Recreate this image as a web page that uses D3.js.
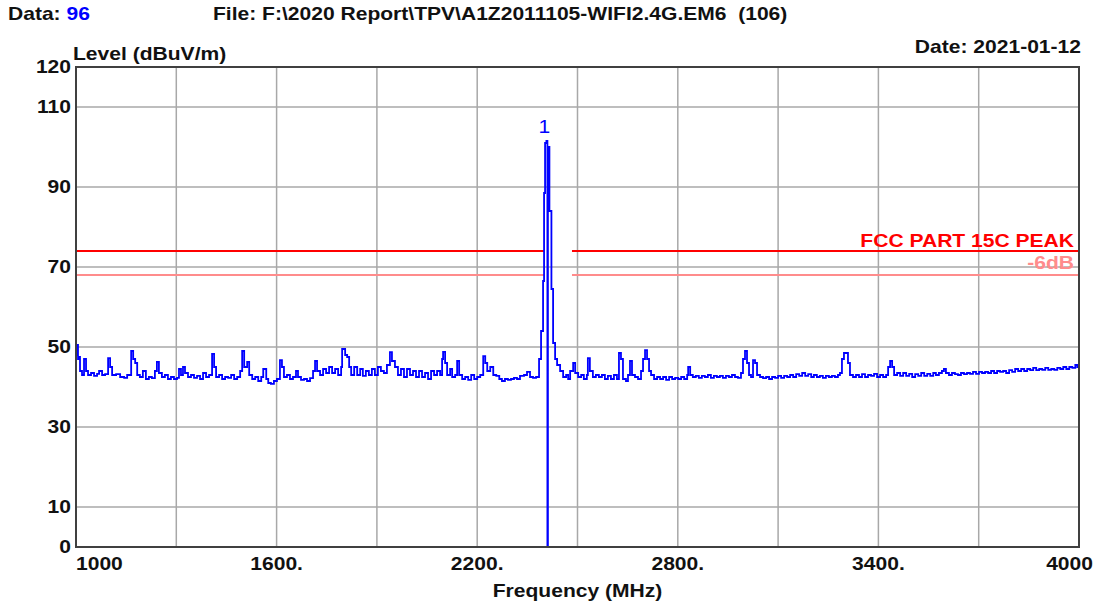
<!DOCTYPE html>
<html>
<head>
<meta charset="utf-8">
<script src="https://cdn.jsdelivr.net/npm/d3@7"></script>
<style>
  body { margin: 0; background: #fff; }
  svg text { font-family: "Liberation Sans", Arial, sans-serif; font-weight: bold; }
</style>
</head>
<body>
<div id="chart"></div>
<script>
// sweep data: frequency (MHz) and level (dBuV/m)
const freqMHz = [
  1000, 1003, 1006, 1009, 1012, 1018, 1024, 1030, 1036, 1045, 1054, 1063, 1069, 1078, 1087, 1096, 1102, 1108, 1120, 1132,
  1144, 1153, 1165, 1171, 1177, 1183, 1191, 1200, 1209, 1218, 1227, 1236, 1242, 1248, 1257, 1266, 1275, 1284, 1293, 1302,
  1308, 1314, 1320, 1326, 1335, 1344, 1353, 1362, 1371, 1380, 1389, 1398, 1407, 1413, 1419, 1428, 1437, 1446, 1455, 1464,
  1473, 1482, 1491, 1497, 1503, 1512, 1518, 1527, 1536, 1545, 1554, 1560, 1569, 1575, 1583, 1592, 1601, 1610, 1616, 1622,
  1631, 1640, 1649, 1658, 1664, 1673, 1682, 1691, 1700, 1709, 1715, 1721, 1730, 1739, 1748, 1757, 1766, 1775, 1784, 1793,
  1796, 1805, 1811, 1817, 1823, 1832, 1841, 1850, 1858, 1867, 1876, 1885, 1894, 1903, 1912, 1921, 1930, 1939, 1945, 1954,
  1963, 1972, 1981, 1990, 1999, 2008, 2017, 2026, 2035, 2044, 2053, 2062, 2071, 2080, 2089, 2095, 2098, 2104, 2110, 2119,
  2125, 2134, 2140, 2146, 2155, 2164, 2173, 2182, 2191, 2200, 2209, 2218, 2224, 2230, 2239, 2248, 2257, 2266, 2274, 2283,
  2292, 2301, 2310, 2319, 2328, 2340, 2349, 2358, 2367, 2376, 2385, 2391, 2397, 2400, 2403, 2407, 2410, 2411.5, 2416, 2422,
  2427, 2433, 2439, 2448, 2457, 2466, 2472, 2478, 2487, 2493, 2502, 2511, 2519, 2528, 2531, 2537, 2546, 2555, 2564, 2573,
  2582, 2591, 2600, 2609, 2618, 2624, 2630, 2636, 2645, 2651, 2657, 2663, 2672, 2681, 2690, 2696, 2702, 2708, 2714, 2720,
  2729, 2738, 2747, 2756, 2765, 2774, 2783, 2792, 2801, 2810, 2819, 2828, 2831, 2837, 2845, 2854, 2863, 2872, 2881, 2890,
  2899, 2908, 2917, 2926, 2935, 2944, 2953, 2962, 2971, 2980, 2989, 2995, 3001, 3007, 3013, 3019, 3025, 3031, 3037, 3046,
  3055, 3064, 3073, 3082, 3091, 3100, 3109, 3118, 3127, 3136, 3145, 3154, 3163, 3172, 3181, 3190, 3199, 3207, 3216, 3225,
  3234, 3243, 3252, 3261, 3270, 3279, 3285, 3291, 3297, 3303, 3309, 3315, 3324, 3333, 3342, 3351, 3360, 3369, 3378, 3387,
  3396, 3405, 3414, 3423, 3429, 3435, 3441, 3447, 3456, 3465, 3474, 3483, 3492, 3501, 3510, 3519, 3528, 3537, 3546, 3555,
  3564, 3572, 3581, 3590, 3596, 3602, 3611, 3620, 3629, 3638, 3647, 3656, 3665, 3674, 3683, 3692, 3701, 3710, 3719, 3728,
  3737, 3746, 3755, 3764, 3773, 3782, 3791, 3800, 3809, 3818, 3827, 3836, 3845, 3854, 3863, 3872, 3881, 3890, 3899, 3908,
  3917, 3926, 3935, 3944, 3953, 3962, 3971, 3980, 3989, 3995, 4000
];
const levelDb = [
  48, 50.5, 47, 47.5, 44, 43, 47, 44, 43, 43.5, 42.8, 43.3, 44, 43, 43.2, 47.2, 45, 43, 43.2, 42.5,
  42.3, 43, 49, 47, 46, 43, 42.5, 44, 42, 42.5, 42.2, 44, 46.3, 43.5, 42.5, 43, 42, 42.5, 42, 42.3,
  44.5, 43, 45, 43.5, 42.5, 43, 42.3, 42.8, 42, 43.5, 42.5, 43, 48.3, 45, 42.5, 43, 42, 42.5, 42.3, 43,
  42, 42.5, 44, 49, 45, 46.3, 43, 42, 42.5, 41.5, 42.5, 44.5, 42, 41, 40.8, 41.5, 42, 46.7, 45, 42.5,
  43, 42, 42.5, 44, 42.5, 41.8, 42, 41.5, 42.2, 44, 46.5, 44, 43, 44.5, 43.5, 45, 43.5, 44.5, 43, 45,
  49.5, 48, 47.5, 45, 43, 45, 43, 44.5, 42.8, 44, 43, 44.5, 43, 45, 44, 43.5, 45.5, 48.7, 46.5, 45,
  43, 44.5, 42.5, 44.5, 43, 44, 42.5, 44, 42.5, 43.5, 42, 44, 43, 44, 43, 47, 48.8, 46, 43, 44.5,
  42.5, 43, 46.5, 43, 42, 42.5, 41.8, 43, 42, 42.5, 43, 47.7, 46, 44, 45, 43, 42.8, 42, 41.5, 42,
  41.8, 42, 42.3, 42, 42.8, 43, 43.8, 42.5, 42.3, 42.5, 47, 54, 66.5, 88.5, 101, 101.5, 0, 100, 84, 64.5,
  51, 47, 45.5, 44, 42.5, 43, 42, 44, 46, 43.5, 42.5, 43, 42, 43, 47.2, 44, 42.5, 43, 42.5, 43,
  42, 42.8, 42, 43, 42, 48.5, 47, 42, 41.5, 43, 46.5, 43, 42.5, 42, 44, 47, 49.2, 47, 44, 43,
  42, 42.5, 42, 42.5, 41.8, 42.5, 42, 42.3, 42, 42.5, 42, 43, 45, 43, 42.5, 42.8, 42.3, 42.8, 42.5, 43,
  42.3, 42.8, 42.5, 42.8, 42.3, 42.8, 42.5, 43, 42.5, 42.3, 43.5, 47, 49, 46, 43, 42.5, 46.7, 46, 43, 42.5,
  42.2, 42.5, 42, 42.5, 42.3, 42.8, 42.3, 42.8, 42.5, 43, 42.5, 43.2, 42.8, 43.5, 42.8, 43.2, 42.5, 43, 42.5, 42.8,
  42.3, 42.8, 42.5, 42.8, 42.5, 43, 43.5, 47, 48.5, 48.5, 46, 43, 42.5, 43, 42.5, 43.2, 42.5, 43, 42.8, 43.3,
  42.5, 43, 42.5, 43, 45, 46.5, 45, 43, 43.5, 42.8, 43.5, 42.8, 43.3, 42.5, 43.2, 42.8, 43.5, 42.8, 43.3, 42.8,
  43.5, 43, 43.5, 44, 44.5, 43.5, 43, 43.5, 43.2, 43, 43.5, 43.2, 43.5, 43.3, 43.8, 43.3, 43.8, 43.5, 43.8, 43.5,
  44, 43.5, 44, 43.8, 44, 43.5, 44.2, 43.8, 44.5, 44, 44.5, 44, 44.5, 44.2, 44.8, 44.2, 44.5, 44.3, 44.8, 44.3,
  44.5, 44.3, 44.8, 44.5, 45, 44.5, 45, 44.8, 45.5, 45, 45.3
];

const xTicks = [1000, 1600, 2200, 2800, 3400, 4000];
const xTickLabels = ["1000", "1600.", "2200.", "2800.", "3400.", "4000"];
const xGrid = [1300, 1600, 1900, 2200, 2500, 2800, 3100, 3400, 3700];
const yTicks = [0, 10, 30, 50, 70, 90, 110, 120];
const yGrid = [10, 30, 50, 70, 90, 110];

const limitLevels = [74, 68];
const limitNames = ["FCC PART 15C PEAK", "-6dB"];
const limitColors = ["#ff0000", "#ff8c8c"];
const limitGap = [2400, 2483.5];

const markerFreq = 2407;
const markerLevel = 101.5;

const W = 1099, H = 606;
const plot = { left: 76, right: 1079, top: 67, bottom: 547 };
const FS = 18, SX = 1.17;   // text is drawn a bit wide, like the original plot

const svg = d3.select("#chart").append("svg")
    .attr("width", W)
    .attr("height", H);

const x = d3.scaleLinear().domain([1000, 4000]).range([plot.left, plot.right]);
const y = d3.scaleLinear().domain([0, 120]).range([plot.bottom, plot.top]);

function label(px, py, str, anchor, color, size) {
    return svg.append("text")
        .attr("transform", `translate(${px},${py}) scale(${SX},1)`)
        .attr("text-anchor", anchor || "start")
        .attr("fill", color || "#111")
        .attr("font-size", size || FS)
        .text(str);
}

// grid
svg.append("g")
    .selectAll("line")
    .data(xGrid)
    .join("line")
    .attr("x1", d => x(d)).attr("x2", d => x(d))
    .attr("y1", plot.top).attr("y2", plot.bottom)
    .attr("stroke", "#a8a8a8").attr("stroke-width", 1.5);
svg.append("g")
    .selectAll("line")
    .data(yGrid)
    .join("line")
    .attr("x1", plot.left).attr("x2", plot.right)
    .attr("y1", d => y(d)).attr("y2", d => y(d))
    .attr("stroke", "#a8a8a8").attr("stroke-width", 1.5);

// limit lines, broken over the restricted band
limitLevels.forEach((lv, i) => {
    const segs = [[1000, limitGap[0]], [limitGap[1], 4000]];
    svg.append("g")
        .selectAll("line")
        .data(segs)
        .join("line")
        .attr("x1", d => x(d[0])).attr("x2", d => x(d[1]))
        .attr("y1", y(lv)).attr("y2", y(lv))
        .attr("stroke", limitColors[i]).attr("stroke-width", 2);
});
label(plot.right - 5, y(limitLevels[0]) - 4, limitNames[0], "end", limitColors[0]);
label(plot.right - 5, y(limitLevels[1]) - 6, limitNames[1], "end", limitColors[1]);

// trace
const pts = freqMHz.map((f, i) => [f, levelDb[i]]);
svg.append("path")
    .datum(pts)
    .attr("fill", "none")
    .attr("stroke", "#0000ff")
    .attr("stroke-width", 1.8)
    .attr("d", d3.line().x(d => x(d[0])).y(d => y(d[1])).curve(d3.curveStepAfter));

// marker
label(x(markerFreq) - 2, y(markerLevel) - 8, "1", "middle", "#0000ff", 18)
    .style("font-weight", "normal");

// frame
svg.append("rect")
    .attr("x", plot.left).attr("y", plot.top)
    .attr("width", plot.right - plot.left).attr("height", plot.bottom - plot.top)
    .attr("fill", "none").attr("stroke", "#404040").attr("stroke-width", 2);

// y axis labels
yTicks.forEach(d => label(plot.left - 5, y(d) + 6, d, "end"));

// x axis labels
xTicks.forEach((d, i) => {
    const last = i === xTicks.length - 1;
    label(last ? x(d) + 14 : x(d), plot.bottom + 23, xTickLabels[i],
        i === 0 ? "start" : last ? "end" : "middle");
});

// titles
label((plot.left + plot.right) / 2, 597, "Frequency (MHz)", "middle");
label(73, 60, "Level (dBuV/m)");
label(1081, 53, "Date: 2021-01-12", "end");

const hdr = label(8, 20, "");
hdr.append("tspan").text("Data: ");
hdr.append("tspan").attr("fill", "#0000ff").text("96");
label(213, 20, "File: F:\\2020 Report\\TPV\\A1Z2011105-WIFI2.4G.EM6  (106)")
    .style("white-space", "pre");
</script>
</body>
</html>
